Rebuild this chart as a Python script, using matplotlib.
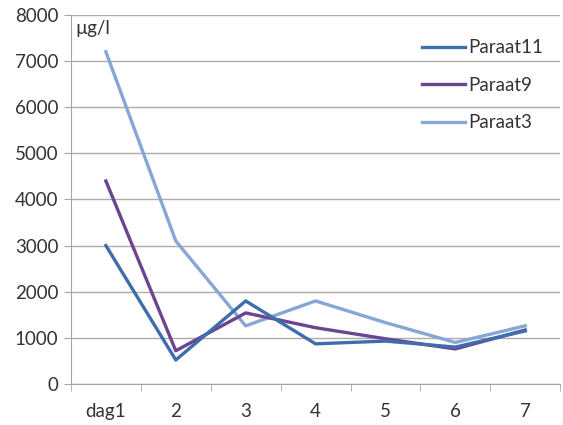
import matplotlib
matplotlib.use("Agg")
import matplotlib.pyplot as plt
from matplotlib.ticker import FixedLocator

# Data
days = ["dag1", "2", "3", "4", "5", "6", "7"]
paraat11 = [3000, 520, 1800, 870, 930, 800, 1150]
paraat9 = [4400, 720, 1540, 1220, 980, 760, 1170]
paraat3 = [7200, 3100, 1260, 1800, 1330, 900, 1260]

plt.rcParams["font.family"] = ["Lato", "DejaVu Sans"]

fig = plt.figure(figsize=(5.63, 4.25), dpi=100)
ax = fig.add_axes([0.126, 0.0965, 0.869, 0.8685])

x = list(range(len(days)))
ax.plot(x, paraat11, color="#3d6dab", lw=2.4, label="Paraat11", zorder=4)
ax.plot(x, paraat9, color="#6b4591", lw=2.4, label="Paraat9", zorder=3)
ax.plot(x, paraat3, color="#86a6d6", lw=2.4, label="Paraat3", zorder=2)

ax.set_xlim(-0.5, len(days) - 0.5)
ax.set_ylim(0, 8000)
ax.set_yticks(range(0, 8001, 1000))
ax.set_xticks(x)
ax.set_xticklabels(days)
ax.xaxis.set_minor_locator(FixedLocator([i - 0.5 for i in range(len(days) + 1)]))

ax.grid(axis="y", color="#b0aaa8", lw=1)
ax.set_axisbelow(True)
for s in ["top", "right"]:
    ax.spines[s].set_visible(False)
for s in ["left", "bottom"]:
    ax.spines[s].set_color("#a8a4a2")
ax.tick_params(axis="x", which="major", length=0, pad=14, labelsize=13.5, labelcolor="#333333")
ax.tick_params(axis="x", which="minor", length=5, color="#a8a4a2", direction="out")
ax.tick_params(axis="y", length=5, color="#a8a4a2", pad=4, labelsize=13.5, labelcolor="#333333")

ax.text(0.01, 0.985, "µg/l", transform=ax.transAxes, fontsize=13.5, color="#333333",
        va="top", ha="left")

ax.legend(loc="upper right", bbox_to_anchor=(1.0, 0.98), frameon=False, fontsize=13.5,
          handlelength=2.3, handletextpad=0.15, labelspacing=1.1, labelcolor="#333333")

fig.savefig("out.png", dpi=100)
